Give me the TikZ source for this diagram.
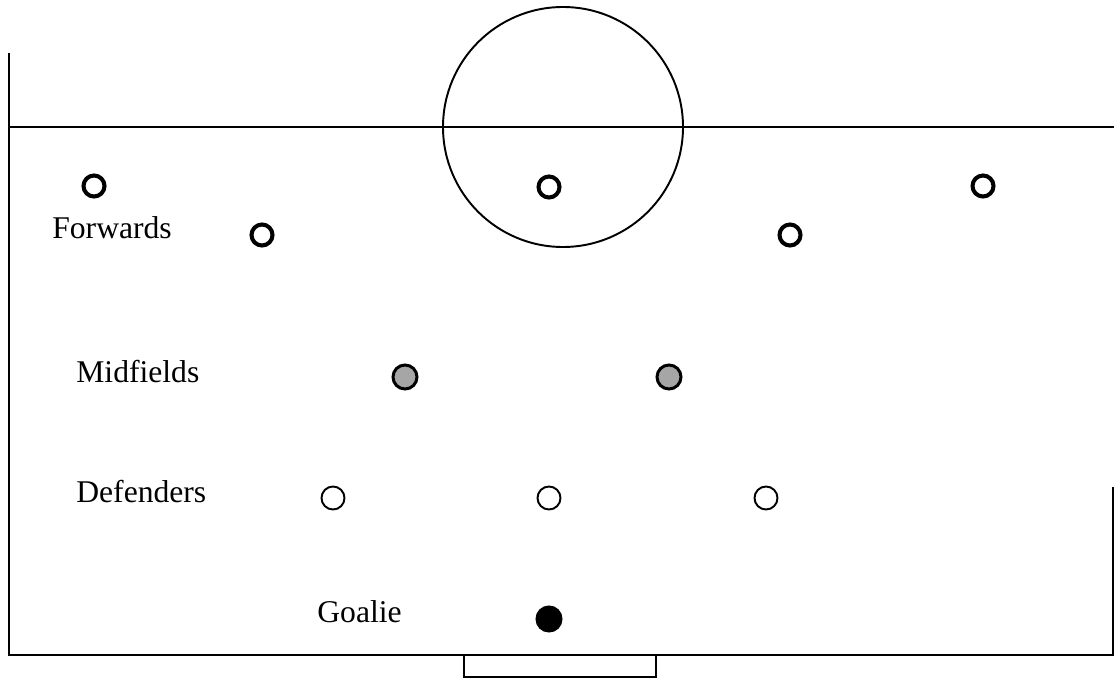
\documentclass[tikz,border=0pt]{standalone}
\usepackage{fontspec}
\setmainfont{Liberation Serif}
\usepackage{xcolor}
\definecolor{cLine}{HTML}{000000}
\definecolor{cMid}{HTML}{A6A6A6}
\usepackage{tikz}
\tikzset{
  field-line/.style={draw=cLine,line width=1.1pt},
  player-fw/.style={draw=cLine,circle,line width=2.3pt,inner sep=0pt,
    minimum size=4.2mm},
  player-mf/.style={draw=cLine,circle,line width=1.7pt,inner sep=0pt,
    minimum size=4.8mm,fill=cMid},
  player-df/.style={draw=cLine,circle,line width=1.1pt,inner sep=0pt,
    minimum size=4.6mm},
  player-gk/.style={draw=cLine,circle,line width=0.6pt,inner sep=0pt,
    minimum size=5.2mm,fill=cLine},
  label-text/.style={anchor=base west,inner sep=0pt,
    font=\fontsize{18}{22}\selectfont},
}

\begin{document}
\begin{tikzpicture}[x=0.02cm,y=-0.02cm]
  \useasboundingbox (0,0) rectangle (1114,679);
  % field
  \coordinate (tl) at (9,53);
  \coordinate (bl) at (9,655);
  \coordinate (br) at (1114,655);
  \coordinate (rt) at (1113,487);
  \coordinate (ml) at (9,127);
  \coordinate (mr) at (1114,127);
  \coordinate (cc) at (563,127);
  \draw[field-line] (tl) -- (bl) -- (br);
  \draw[field-line] (rt) -- (1113,655);
  \draw[field-line] (ml) -- (mr);
  \draw[field-line] (cc) circle (120);
  \draw[field-line] (464,655) rectangle (656,677);

  % players
  \node[player-fw] (fw1) at (94,186) {};
  \node[player-fw] (fw2) at (262,235) {};
  \node[player-fw] (fw3) at (549,187) {};
  \node[player-fw] (fw4) at (790,235) {};
  \node[player-fw] (fw5) at (983,186) {};
  \node[player-mf] (mf1) at (405,377) {};
  \node[player-mf] (mf2) at (669,377) {};
  \node[player-df] (df1) at (333,498) {};
  \node[player-df] (df2) at (549,498) {};
  \node[player-df] (df3) at (766,498) {};
  \node[player-gk] (gk) at (549,619) {};

  % labels
  \node[label-text] (lfw) at (52,238) {Forwards};
  \node[label-text] (lmf) at (76,382) {Midfields};
  \node[label-text] (ldf) at (76,502) {Defenders};
  \node[label-text] (lgk) at (317,622) {Goalie};
\end{tikzpicture}
\end{document}
